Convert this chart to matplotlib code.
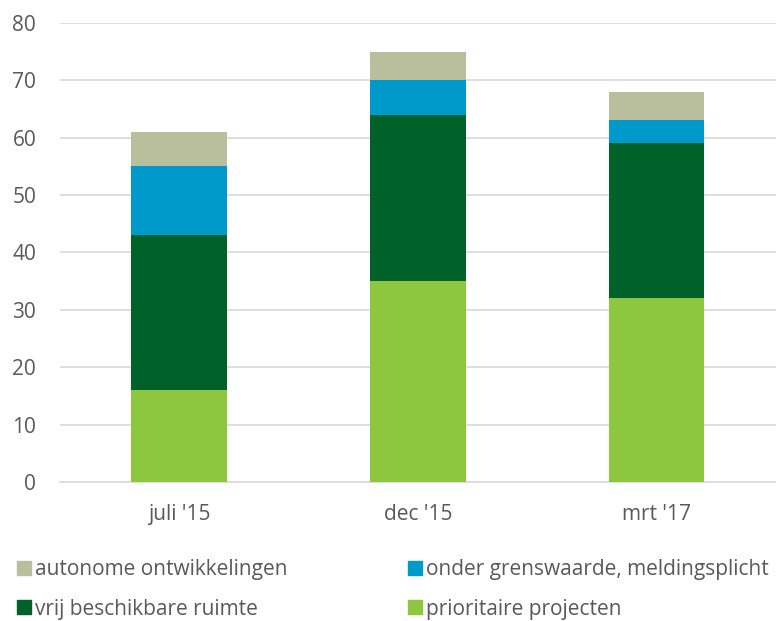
import matplotlib.pyplot as plt
import numpy as np
from matplotlib.patches import Patch

plt.rcParams['font.family'] = ['Open Sans', 'DejaVu Sans']

categories = ["juli '15", "dec '15", "mrt '17"]
prioritaire = [16, 35, 32]
vrij = [27, 29, 27]
onder = [12, 6, 4]
autonoom = [6, 5, 5]

series = [
    ('prioritaire projecten', prioritaire, '#8DC63F'),
    ('vrij beschikbare ruimte', vrij, '#006129'),
    ('onder grenswaarde, meldingsplicht', onder, '#0099CC'),
    ('autonome ontwikkelingen', autonoom, '#B9BF9D'),
]

txt = '#595959'
fig = plt.figure(figsize=(7.76, 6.21), dpi=100)
ax = fig.add_axes([0.077, 0.224, 0.923, 0.739])

x = np.arange(len(categories))
bottom = np.zeros(len(categories))
for name, vals, col in series:
    ax.bar(x, vals, 0.4, bottom=bottom, color=col, zorder=3)
    bottom += np.array(vals)

ax.set_xlim(-0.5, 2.5)
ax.set_ylim(0, 80)
ax.set_yticks(range(0, 81, 10))
ax.set_xticks(x)
ax.set_xticklabels(categories)
ax.yaxis.grid(True, color='#D9D9D9', lw=1.2, zorder=0)
for s in ['top', 'right', 'left']:
    ax.spines[s].set_visible(False)
ax.spines['bottom'].set_color('#D9D9D9')
ax.spines['bottom'].set_linewidth(1.2)
ax.tick_params(length=0, labelsize=15, colors=txt)
ax.tick_params(axis='x', pad=16)
ax.tick_params(axis='y', pad=17)

handles = [Patch(color=series[3][2], label=series[3][0]),
           Patch(color=series[1][2], label=series[1][0]),
           Patch(color=series[2][2], label=series[2][0]),
           Patch(color=series[0][2], label=series[0][0])]
leg = fig.legend(handles=handles, ncol=2, loc='upper left', bbox_to_anchor=(-0.002, 0.13),
                 frameon=False, fontsize=15, handlelength=0.65, handleheight=0.65,
                 handletextpad=0.2, columnspacing=5.8, labelspacing=0.9, labelcolor=txt)

fig.savefig('out.png', dpi=100)
